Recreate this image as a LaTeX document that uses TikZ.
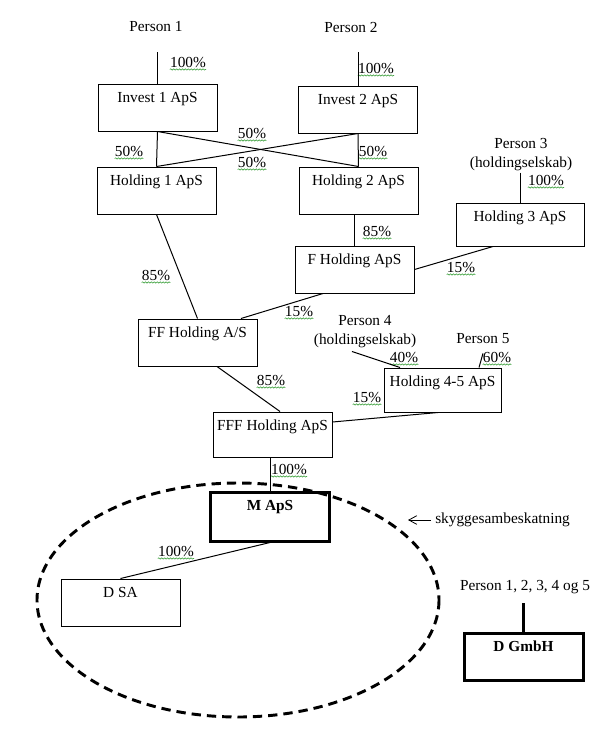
\documentclass[tikz,border=0pt]{standalone}
\usepackage{fontspec}
\setmainfont{Liberation Serif}
\usetikzlibrary{arrows.meta,calc,decorations.pathmorphing}
\definecolor{spellgreen}{RGB}{70,165,70}
\newcommand{\orgfont}{\fontsize{11.5}{14.25}\selectfont}
\tikzset{
  box/.style={draw, line width=0.75pt, minimum width=89.25pt, inner xsep=1pt, inner ysep=0pt,
              text height=14pt, text depth=21.25pt, font=\orgfont},
  mbox/.style={box, line width=2.25pt, font=\orgfont\bfseries},
  owner/.style={inner sep=0pt, align=center, font=\orgfont},
  pct/.style={inner sep=0pt, font=\orgfont},
  own/.style={line width=0.75pt},
  squig/.style={spellgreen, line width=0.5pt, decorate,
      decoration={snake, amplitude=0.45pt, segment length=2.2pt}},
  skygge/.style={line width=2.2pt, dash pattern=on 7pt off 4.5pt},
  note/.style={-{Straight Barb[length=6pt, width=6.5pt]}, line width=0.6pt},
}

\begin{document}
\begin{tikzpicture}[x=0.75pt, y=-0.75pt]
  \useasboundingbox (0,0) rectangle (598,729);
  % ejere
  \node[owner] (per1) at (156,27) {Person 1};
  \node[owner] (per2) at (351,27) {Person 2};
  \node[owner] (per3) at (521,155) {Person 3\\(holdingselskab)};
  \node[owner] (per4) at (365,332) {Person 4\\(holdingselskab)};
  \node[owner] (per5) at (483,339) {Person 5};
  \node[owner] (peralle) at (525,587) {Person 1, 2, 3, 4 og 5};
  % selskaber
  \node[box] (inv1) at (157.5,107.5) {Invest 1 ApS};
  \node[box] (inv2) at (358,109.5) {Invest 2 ApS};
  \node[box] (hold1) at (156.5,190.5) {Holding 1 ApS};
  \node[box] (hold2) at (358.5,190.5) {Holding 2 ApS};
  \node[box, minimum width=96pt, text depth=18.25pt] (hold3) at (520,224.5) {Holding 3 ApS};
  \node[box] (fhold) at (354.5,269.5) {F Holding ApS};
  \node[box] (ffhold) at (197.5,342.5) {FF Holding A/S};
  \node[box, minimum width=87.75pt, text depth=19pt] (hold45) at (442.5,390) {Holding 4-5 ApS};
  \node[box, text depth=19.75pt] (fffhold) at (272.5,434.5) {FFF Holding ApS};
  \node[mbox, text depth=22.75pt] (maps) at (270,516.5) {M ApS};
  \node[box] (dsa) at (120.5,602.5) {D SA};
  \node[mbox] (dgmbh) at (523.5,656.5) {D GmbH};
  % ejerandele
  \foreach \x/\y/\t [count=\i] in {188/62/100, 376/68/100, 129/151/50, 252/133/50, 252/162/50,
      373/151/50, 377/231/85, 546/180/100, 461/267/15, 299/311/15, 156/275/85, 271/380/85,
      404/357/40, 497/357/60, 367/397/15, 289/469/100, 176/551/100} {
    \node[pct] (pct\i) at (\x,\y) {\t\%};
    \draw[squig] ([yshift=-1.5pt]pct\i.south west) -- ([yshift=-1.5pt]pct\i.south east);
  }
  % forbindelser
  \draw[own] ($(per1.south -| inv1.north)+(0,20)$) -- (inv1.north);
  \draw[own] ($(per2.south -| inv2.north)+(0,20)$) -- (inv2.north);
  \draw[own] ($(per3.south -| hold3.north)+(0,1)$) -- (hold3.north);
  \draw[own] ($(per4.south)+(-13,3)$) -- ($(hold45.north)+(-42.5,0)$);
  \draw[own] ($(per5.south)+(0,9)$) -- ($(hold45.north)+(36.5,0)$);
  \draw[own, line width=2.25pt] ($(peralle.south -| dgmbh.north)+(0,9)$) -- (dgmbh.north);
  \draw[own] (inv1.south) -- (hold1.north);
  \draw[own] (inv1.south) -- (hold2.north);
  \draw[own] (inv2.south) -- (hold1.north);
  \draw[own] (inv2.south) -- (hold2.north);
  \draw[own] (hold1.south) -- (ffhold.north);
  \draw[own] (hold2.south -| fhold.north) -- (fhold.north);
  \draw[own] ($(hold3.south)+(-27,0)$) -- (fhold.east);
  \draw[own] ($(fhold.south)+(-31.5,0)$) -- ($(ffhold.north)+(43.5,0)$);
  \draw[own] ($(ffhold.south)+(19.5,0)$) -- ($(fffhold.north)+(7.5,0)$);
  \draw[own] ($(hold45.south)+(-4.5,0)$) -- ($(fffhold.east)+(0,-12.5)$);
  \draw[own] (fffhold.south -| maps.north) -- (maps.north);
  \draw[own] (maps.south) -- (dsa.north);
  % skyggesambeskatning
  \draw[skygge] (238,600) ellipse [x radius=201, y radius=117];
  \node[owner, anchor=west] (skyg) at (435,520) {skyggesambeskatning};
  \coordinate (skygpil) at (408,520);
  \draw[note] ($(skyg.west)+(-4,0)$) -- (skygpil);
\end{tikzpicture}
\end{document}
